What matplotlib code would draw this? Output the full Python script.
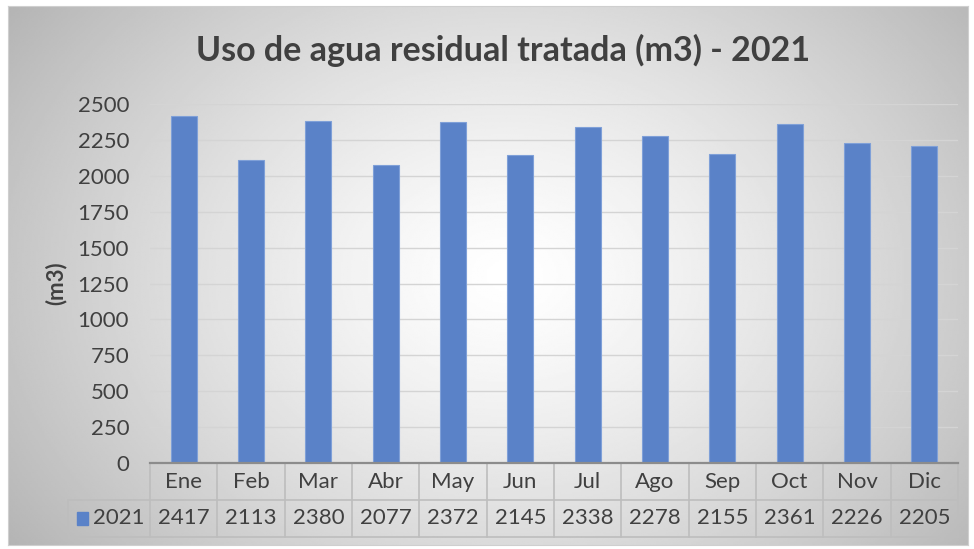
import matplotlib
matplotlib.use("Agg")
import matplotlib.pyplot as plt
import numpy as np
from matplotlib.patches import Rectangle

months = ["Ene", "Feb", "Mar", "Abr", "May", "Jun", "Jul", "Ago", "Sep", "Oct", "Nov", "Dic"]
values_2021 = [2417, 2113, 2380, 2077, 2372, 2145, 2338, 2278, 2155, 2361, 2226, 2205]
series_name = "2021"
y_ticks = [0, 250, 500, 750, 1000, 1250, 1500, 1750, 2000, 2250, 2500]

plt.rcParams["font.family"] = ["Lato", "DejaVu Sans"]
text_color = "#404040"
bar_color = "#5A82C8"
fs = 16

W, H = 974, 549
fig = plt.figure(figsize=(W / 100, H / 100), dpi=100, facecolor="white")

# chart area background: soft radial gradient, white in the centre
bg = fig.add_axes([8 / W, 1 - 545 / H, 960 / W, 539 / H])
yy, xx = np.mgrid[0:1:300j, 0:1:500j]
r = np.sqrt(((xx - 0.52) / 0.55) ** 2 + ((yy - 0.5) / 0.75) ** 2)
shade = np.clip(255 - 62 * r ** 1.3, 180, 255) / 255
bg.imshow(shade, cmap="gray", vmin=0, vmax=1, aspect="auto", extent=[0, 1, 0, 1])
bg.set_xticks([])
bg.set_yticks([])
for s in bg.spines.values():
    s.set_color("#cfcfcf")
    s.set_linewidth(0.8)

left, right = 150 / W, 958 / W
bottom, top = 1 - 463 / H, 1 - 104 / H
ax = fig.add_axes([left, bottom, right - left, top - bottom])
ax.patch.set_alpha(0)

x = np.arange(len(months))
ax.bar(x, values_2021, width=0.39, color=bar_color, edgecolor="#7fa0d8", linewidth=0.8, zorder=3)
ax.set_xlim(-0.5, len(months) - 0.5)
ax.set_ylim(0, 2500)
ax.set_yticks(y_ticks)
ax.set_yticklabels([str(v) for v in y_ticks], fontsize=fs, color=text_color)
ax.tick_params(axis="y", length=0, pad=15)
ax.set_xticks([])
ax.grid(axis="y", color="#d4d4d4", linewidth=1, zorder=0)
ax.set_axisbelow(True)
for s in ax.spines.values():
    s.set_visible(False)
ax.set_ylabel("(m3)", fontsize=fs, fontweight="bold", color=text_color, labelpad=8)

# data table under the plot
row_h = 37 / (top - bottom) / H
leg_left = (68 / W - left) / (right - left)
tr = ax.transAxes
cell = "#bdbdbd"
for k in range(len(months) + 1):
    xf = k / len(months)
    ax.plot([xf, xf], [0, -2 * row_h], transform=tr, color=cell, lw=1.2, clip_on=False)
ax.plot([leg_left, leg_left], [-row_h, -2 * row_h], transform=tr, color=cell, lw=1.2, clip_on=False)
ax.plot([leg_left, 1], [-row_h, -row_h], transform=tr, color=cell, lw=1.2, clip_on=False)
ax.plot([leg_left, 1], [-2 * row_h, -2 * row_h], transform=tr, color=cell, lw=1.2, clip_on=False)
ax.plot([0, 1], [0, 0], transform=tr, color="#8c8c8c", lw=1.6, clip_on=False, zorder=5)

for i, (m, v) in enumerate(zip(months, values_2021)):
    xc = (i + 0.5) / len(months)
    ax.text(xc, -0.5 * row_h, m, transform=tr, ha="center", va="center", fontsize=fs, color=text_color)
    ax.text(xc, -1.5 * row_h, str(v), transform=tr, ha="center", va="center", fontsize=fs, color=text_color)

ax.add_patch(Rectangle((leg_left + 0.011, -1.5 * row_h - 0.017), 0.0135, 0.034, transform=tr,
                       color=bar_color, clip_on=False))
ax.text(leg_left + 0.031, -1.5 * row_h, series_name, transform=tr, ha="left", va="center",
        fontsize=fs, color=text_color)

fig.text(503 / W, 1 - 50 / H, "Uso de agua residual tratada (m3) - 2021", ha="center", va="center",
         fontsize=24.5, fontweight="bold", color=text_color)

fig.savefig("out.png", dpi=100, facecolor="white")
